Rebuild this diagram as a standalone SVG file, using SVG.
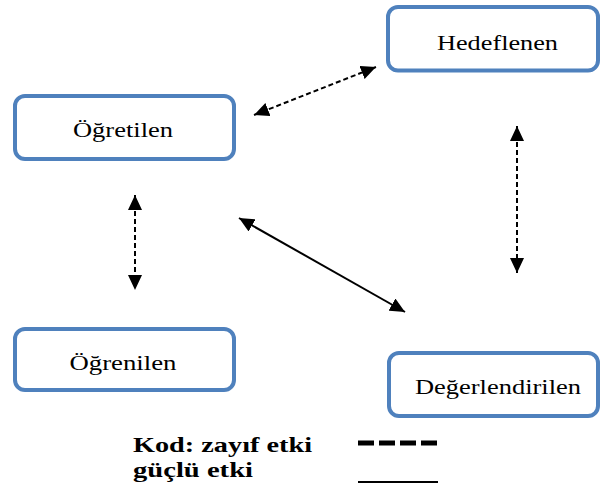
<svg xmlns="http://www.w3.org/2000/svg" width="600" height="495" viewBox="0 0 600 495">
<style>
.box{fill:#fff;stroke:#4F81BD;stroke-width:4}
.lbl{font-family:"Liberation Serif","Times New Roman","DejaVu Serif",serif;font-size:21px;fill:#000;text-anchor:middle}
.leg{font-family:"Liberation Serif","Times New Roman","DejaVu Serif",serif;font-size:21px;font-weight:bold;fill:#000}
.dash{stroke:#000;stroke-width:2;stroke-dasharray:5 3;fill:none}
.solid{stroke:#000;stroke-width:2;fill:none}
</style>
<defs>
<marker id="ah" markerUnits="userSpaceOnUse" markerWidth="16" markerHeight="14" refX="15" refY="7" orient="auto-start-reverse">
<path d="M0,0 L15,7 L0,14 Z" fill="#000"/>
</marker>
<filter id="sh" x="-10%" y="-100%" width="120%" height="400%">
<feGaussianBlur stdDeviation="1.5"/>
</filter>
</defs>
<rect width="600" height="495" fill="#fff"/>
<g id="ogretilen">
<rect class="box" x="15" y="96" width="219" height="63" rx="10"/>
<text class="lbl" x="123" y="137" textLength="100" lengthAdjust="spacingAndGlyphs">Öğretilen</text>
</g>
<g id="hedeflenen">
<rect class="box" x="388" y="7" width="210" height="63.5" rx="10"/>
<text class="lbl" x="497.5" y="50" textLength="121" lengthAdjust="spacingAndGlyphs">Hedeflenen</text>
</g>
<g id="ogrenilen">
<rect class="box" x="15" y="329" width="219" height="61" rx="10"/>
<text class="lbl" x="123" y="370" textLength="107" lengthAdjust="spacingAndGlyphs">Öğrenilen</text>
</g>
<g id="degerlendirilen">
<rect class="box" x="389" y="353" width="209" height="63" rx="10"/>
<text class="lbl" x="498" y="394" textLength="166" lengthAdjust="spacingAndGlyphs">Değerlendirilen</text>
</g>
<g id="connectors">
<line class="dash" x1="254" y1="115" x2="376" y2="67" marker-start="url(#ah)" marker-end="url(#ah)"/>
<line class="solid" x1="239" y1="218" x2="405" y2="312" marker-start="url(#ah)" marker-end="url(#ah)"/>
<line class="dash" x1="517" y1="126" x2="517" y2="273" marker-start="url(#ah)" marker-end="url(#ah)"/>
<line class="dash" x1="135" y1="195" x2="135" y2="290" marker-start="url(#ah)" marker-end="url(#ah)"/>
</g>
<g id="legend">
<text class="leg" x="133" y="452" textLength="179" lengthAdjust="spacingAndGlyphs">Kod: zayıf etki</text>
<text class="leg" x="133" y="477" textLength="120" lengthAdjust="spacingAndGlyphs">güçlü etki</text>
<line x1="358" y1="446" x2="437" y2="446" stroke="#888" stroke-width="5" stroke-dasharray="16 5" filter="url(#sh)"/>
<line x1="358" y1="443" x2="437" y2="443" stroke="#000" stroke-width="5" stroke-dasharray="16 5"/>
<line x1="358" y1="485" x2="438" y2="485" stroke="#888" stroke-width="2" filter="url(#sh)"/>
<line x1="358" y1="482" x2="438" y2="482" stroke="#000" stroke-width="2"/>
</g>
</svg>
